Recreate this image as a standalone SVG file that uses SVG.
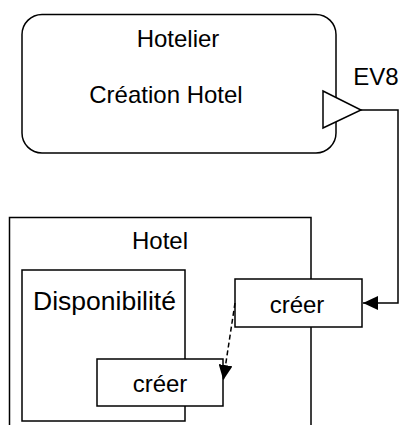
<svg xmlns="http://www.w3.org/2000/svg" width="400" height="425" viewBox="0 0 400 425">
<style>
.b{fill:#fff;stroke:#000;stroke-width:1.5}
.t{font-family:"Liberation Sans",Arial,sans-serif;font-size:24px;fill:#000;text-anchor:middle}
.c{fill:none;stroke:#000;stroke-width:1.5}
</style>
<defs>
<marker id="ah" markerWidth="16" markerHeight="14" refX="15" refY="7" orient="auto" markerUnits="userSpaceOnUse">
<path d="M0,0 L15,7 L0,14 Z" fill="#000"/>
</marker>
</defs>
<rect width="400" height="425" fill="#fff"/>
<g id="hotelier">
<rect class="b" x="22" y="14.5" width="314" height="138.5" rx="20" ry="20"/>
<text class="t" x="178" y="47">Hotelier</text>
<text class="t" x="166" y="103">Création Hotel</text>
<polygon class="b" points="323,91 361,110 323,128"/>
</g>
<g id="hotel">
<rect class="b" x="9.5" y="217.5" width="301.5" height="230"/>
<text class="t" x="160" y="249">Hotel</text>
</g>
<g id="disponibilite">
<rect class="b" x="22" y="270" width="163" height="151"/>
<text class="t" x="33" y="310" style="text-anchor:start;font-size:25px" textLength="143" lengthAdjust="spacingAndGlyphs">Disponibilité</text>
</g>
<g id="creer-hotel">
<rect class="b" x="235" y="279" width="127" height="48"/>
<text class="t" x="297" y="313">créer</text>
</g>
<g id="creer-dispo">
<rect class="b" x="97" y="359" width="126" height="47"/>
<text class="t" x="160" y="392">créer</text>
</g>
<g id="connectors">
<text class="t" x="376" y="85">EV8</text>
<polyline class="c" points="361,110 398,110 398,303 363,303" marker-end="url(#ah)"/>
<line class="c" x1="235" y1="303" x2="223.3" y2="380" stroke-dasharray="5,3" marker-end="url(#ah)"/>
</g>
</svg>
